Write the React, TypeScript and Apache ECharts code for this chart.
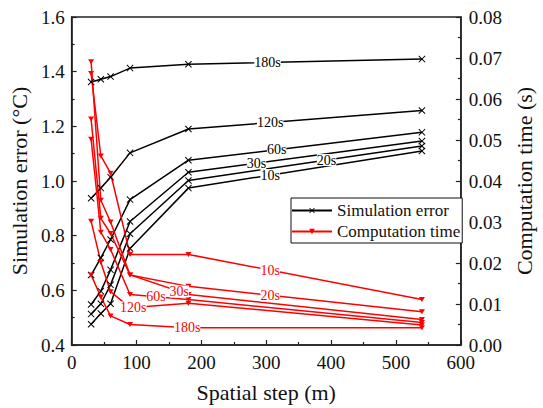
import React, { useEffect, useRef } from "react";
import * as echarts from "echarts";

const spatialSteps = [30, 45, 60, 90, 180, 540];
const timeStepNames = ["10s", "20s", "30s", "60s", "120s", "180s"];

// Simulation error (°C), one row per time step
const error10s = [0.476, 0.515, 0.551, 0.753, 0.974, 1.11];
const error20s = [0.513, 0.551, 0.62, 0.807, 1.002, 1.128];
const error30s = [0.548, 0.597, 0.675, 0.852, 1.032, 1.146];
const error60s = [0.656, 0.719, 0.786, 0.932, 1.076, 1.178];
const error120s = [0.937, 0.974, 1.014, 1.103, 1.19, 1.258];
const error180s = [1.362, 1.372, 1.382, 1.413, 1.427, 1.446];

// Computation time (s), one row per time step
const time10s = [0.0662, 0.0461, 0.0419, 0.0221, 0.0221, 0.0111];
const time20s = [0.0691, 0.0353, 0.03, 0.0171, 0.0143, 0.0081];
const time30s = [0.0551, 0.0309, 0.0272, 0.0171, 0.0123, 0.0062];
const time60s = [0.0502, 0.0275, 0.0233, 0.0123, 0.0111, 0.0055];
const time120s = [0.0302, 0.0202, 0.013, 0.0091, 0.0102, 0.0049];
const time180s = [0.0171, 0.0117, 0.0071, 0.005, 0.0042, 0.0042];

// x positions (data units) where the inline labels sit on each line
const errorLabelX = [306, 393, 285, 316, 306, 302];
const timeLabelX = [306, 306, 166, 130, 95, 178];

const errorRows = [error10s, error20s, error30s, error60s, error120s, error180s];
const timeRows = [time10s, time20s, time30s, time60s, time120s, time180s];

const FONT = "'Liberation Serif', 'DejaVu Serif', serif";
const crossPath =
  "path://M1,0L5,4L9,0L10,1L6,5L10,9L9,10L5,6L1,10L0,9L4,5L0,1Z";

function yAt(xs: number[], ys: number[], x: number) {
  for (let i = 0; i < xs.length - 1; i++) {
    if (x >= xs[i] && x <= xs[i + 1]) {
      const t = (x - xs[i]) / (xs[i + 1] - xs[i]);
      return ys[i] + t * (ys[i + 1] - ys[i]);
    }
  }
  return ys[ys.length - 1];
}

function makeSeries(
  name: string,
  rows: number[][],
  labelX: number[],
  color: string,
  yAxisIndex: number,
  symbol: string,
  symbolSize: number | number[],
  symbolRotate: number
) {
  return rows.map((row, i) => ({
    type: "line",
    name,
    yAxisIndex,
    data: spatialSteps.map((x, j) => [x, row[j]]),
    symbol,
    symbolSize,
    symbolRotate,
    showAllSymbol: true,
    lineStyle: { color, width: 1.5 },
    itemStyle: { color, borderWidth: 0 },
    emphasis: { disabled: true },
    markPoint: {
      symbol: "circle",
      symbolSize: 1,
      itemStyle: { color: "rgba(0,0,0,0)" },
      label: {
        show: true,
        position: "inside",
        formatter: timeStepNames[i],
        color,
        fontFamily: FONT,
        fontSize: 14,
        lineHeight: 12,
        backgroundColor: "#fff",
        padding: [0, 0],
      },
      data: [{ coord: [labelX[i], yAt(spatialSteps, row, labelX[i])] }],
    },
  }));
}

export default function App() {
  const ref = useRef<HTMLDivElement>(null);
  useEffect(() => {
    if (!ref.current) return;
    const chart = echarts.init(ref.current, undefined, { renderer: "svg" });
    const axisLine = { show: true, lineStyle: { color: "#222", width: 1.5 } };
    const axisTick = { show: true, inside: true, length: 5, lineStyle: { color: "#222", width: 1.2 } };
    const minorTick = { show: true, splitNumber: 2, length: 3, lineStyle: { color: "#222", width: 1.2 } };
    const label = { color: "#111", fontFamily: FONT, fontSize: 19 };
    const nameStyle = { color: "#111", fontFamily: FONT, fontSize: 22 };
    chart.setOption({
      animation: false,
      textStyle: { fontFamily: FONT },
      grid: {
        left: 66,
        right: 67,
        top: 17,
        bottom: 58,
        show: true,
        borderColor: "#222",
        borderWidth: 1.5,
        backgroundColor: "transparent",
      },
      legend: {
        data: ["Simulation error", "Computation time"],
        orient: "vertical",
        left: 291,
        top: 198,
        padding: [4, 2, 3, 0],
        itemGap: 4,
        itemWidth: 40,
        itemHeight: 7,
        borderColor: "#111",
        borderWidth: 1,
        backgroundColor: "#fff",
        borderRadius: 0,
        textStyle: { color: "#111", fontFamily: FONT, fontSize: 17 },
      },
      xAxis: {
        type: "value",
        min: 0,
        max: 600,
        interval: 100,
        name: "Spatial step (m)",
        nameLocation: "middle",
        nameGap: 36,
        nameTextStyle: nameStyle,
        axisLine,
        axisTick,
        minorTick,
        splitLine: { show: false },
        axisLabel: { ...label, margin: 8, showMaxLabel: true, showMinLabel: true },
      },
      yAxis: [
        {
          type: "value",
          min: 0.4,
          max: 1.6,
          interval: 0.2,
          name: "Simulation error (°C)",
          nameLocation: "middle",
          nameGap: 37,
          nameTextStyle: nameStyle,
          axisLine,
          axisTick,
          minorTick,
          splitLine: { show: false },
          axisLabel: { ...label, margin: 7, formatter: (v: number) => v.toFixed(1) },
        },
        {
          type: "value",
          position: "right",
          min: 0,
          max: 0.08,
          interval: 0.01,
          name: "Computation time (s)",
          nameLocation: "middle",
          nameGap: 50,
          nameTextStyle: nameStyle,
          axisLine,
          axisTick,
          minorTick,
          splitLine: { show: false },
          axisLabel: { ...label, margin: 8, formatter: (v: number) => v.toFixed(2) },
        },
      ],
      series: [
        ...makeSeries("Simulation error", errorRows, errorLabelX, "#000", 0, crossPath, 7, 0),
        ...makeSeries("Computation time", timeRows, timeLabelX, "#ff0000", 1, "triangle", [6, 5], 180),
      ],
    });
    return () => chart.dispose();
  }, []);
  return (
    <div
      ref={ref}
      style={{ position: "fixed", left: 0, top: 0, width: 543, height: 408, background: "#fff" }}
    />
  );
}
